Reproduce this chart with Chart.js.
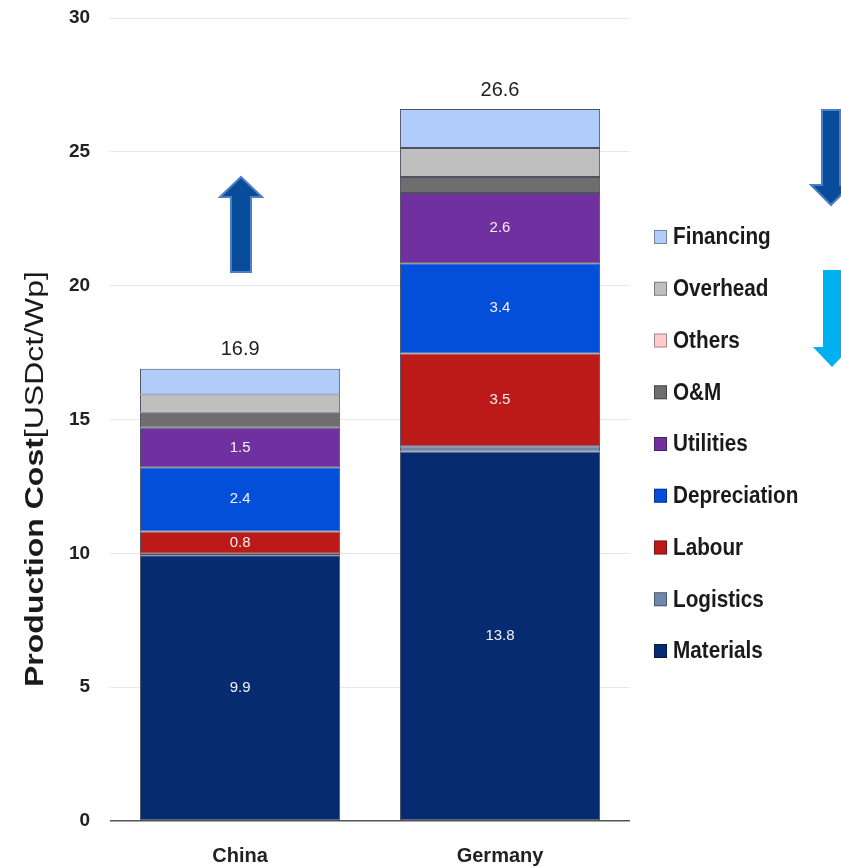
<!DOCTYPE html>
<html lang="en">
<head>
    <meta charset="UTF-8">
    <title>Production Cost China vs Germany</title>
    <script src="https://cdn.jsdelivr.net/npm/chart.js@4.4.1/dist/chart.umd.min.js"></script>
    <style>
        html, body { margin: 0; padding: 0; background: #fff; }
        .chart-container { width: 841px; height: 867px; }
    </style>
</head>
<body>
    <div class="chart-container">
        <canvas id="costChart" width="841" height="867"></canvas>
    </div>

    <script>
        // values (USDct/Wp), bottom of the stack first
        const countries = ['China', 'Germany'];
        const materials = [9.93, 13.8];
        const logistics = [0.05, 0.2];
        const labour = [0.84, 3.47];
        const depreciation = [2.4, 3.37];
        const utilities = [1.47, 2.62];
        const oAndM = [0.56, 0.6];
        const others = [0, 0];
        const overhead = [0.68, 1.08];
        const financing = [0.97, 1.46];
        const yTicks = [0, 5, 10, 15, 20, 25, 30];

        const FONT = "'Liberation Sans', Arial, sans-serif";

        function series(label, data, color, showValue) {
            return {
                label: label,
                data: data,
                backgroundColor: color,
                borderColor: 'rgba(20, 22, 45, 0.75)',
                borderWidth: 1,
                borderSkipped: false,
                showValue: showValue
            };
        }

        const datasets = [
            series('Materials', materials, '#072b70', true),
            series('Logistics', logistics, '#6f86ad', false),
            series('Labour', labour, '#bb1a18', true),
            series('Depreciation', depreciation, '#044fd9', true),
            series('Utilities', utilities, '#7030a0', true),
            series('O&M', oAndM, '#6e6e6e', false),
            series('Others', others, '#ffcccc', false),
            series('Overhead', overhead, '#bfbfbf', false),
            series('Financing', financing, '#b0ccfb', false)
        ];

        // white numbers inside the labelled segments + totals above bars
        const valueLabels = {
            id: 'valueLabels',
            afterDatasetsDraw(chart) {
                const ctx = chart.ctx;
                ctx.save();
                ctx.textAlign = 'center';
                ctx.textBaseline = 'middle';
                ctx.font = '15px ' + FONT;
                ctx.fillStyle = '#f2f2f2';
                chart.data.datasets.forEach((ds, i) => {
                    if (!ds.showValue) return;
                    chart.getDatasetMeta(i).data.forEach((bar, j) => {
                        ctx.fillText(ds.data[j].toFixed(1), bar.x, (bar.y + bar.base) / 2);
                    });
                });
                const yScale = chart.scales.y;
                const firstMeta = chart.getDatasetMeta(0);
                ctx.font = '20px ' + FONT;
                ctx.fillStyle = '#222';
                countries.forEach((c, j) => {
                    const total = chart.data.datasets.reduce((s, ds) => s + ds.data[j], 0);
                    ctx.fillText(total.toFixed(1), firstMeta.data[j].x, yScale.getPixelForValue(total) - 19);
                });
                ctx.restore();
            }
        };

        // mixed bold / normal axis title, stretched like the original
        const axisTitle = {
            id: 'axisTitle',
            afterDraw(chart) {
                const ctx = chart.ctx;
                const boldPart = 'Production Cost';
                const normalPart = '[USDct/Wp]';
                ctx.save();
                ctx.translate(36, 479);
                ctx.rotate(-Math.PI / 2);
                ctx.scale(1.28, 1);
                ctx.textBaseline = 'middle';
                ctx.textAlign = 'left';
                ctx.fillStyle = '#1a1a1a';
                ctx.font = 'bold 25px ' + FONT;
                const w1 = ctx.measureText(boldPart).width;
                ctx.font = '25px ' + FONT;
                const w2 = ctx.measureText(normalPart).width;
                let x = -(w1 + w2) / 2;
                ctx.font = 'bold 25px ' + FONT;
                ctx.fillText(boldPart, x, 0);
                ctx.font = '25px ' + FONT;
                ctx.fillText(normalPart, x + w1, 0);
                ctx.restore();
            }
        };

        // legend on the right, top item = last dataset
        const sideLegend = {
            id: 'sideLegend',
            afterDraw(chart) {
                const ctx = chart.ctx;
                const items = chart.data.datasets.slice().reverse();
                ctx.save();
                items.forEach((ds, k) => {
                    const y = 237 + k * 51.75;
                    ctx.fillStyle = ds.backgroundColor;
                    ctx.fillRect(654, y - 7, 13, 14);
                    ctx.strokeStyle = 'rgba(0, 0, 0, 0.35)';
                    ctx.lineWidth = 1;
                    ctx.strokeRect(654.5, y - 6.5, 12, 13);
                    ctx.save();
                    ctx.translate(673, y);
                    ctx.scale(0.9, 1);
                    ctx.font = 'bold 23px ' + FONT;
                    ctx.fillStyle = '#1a1a1a';
                    ctx.textBaseline = 'middle';
                    ctx.fillText(ds.label, 0, 1);
                    ctx.restore();
                });
                ctx.restore();
            }
        };

        // decorative arrows
        function arrow(ctx, cx, shaftHalf, headHalf, yTail, yHeadBase, yTip, fill, stroke) {
            ctx.beginPath();
            ctx.moveTo(cx, yTip);
            ctx.lineTo(cx + headHalf, yHeadBase);
            ctx.lineTo(cx + shaftHalf, yHeadBase);
            ctx.lineTo(cx + shaftHalf, yTail);
            ctx.lineTo(cx - shaftHalf, yTail);
            ctx.lineTo(cx - shaftHalf, yHeadBase);
            ctx.lineTo(cx - headHalf, yHeadBase);
            ctx.closePath();
            ctx.fillStyle = fill;
            ctx.fill();
            if (stroke) {
                ctx.strokeStyle = stroke;
                ctx.lineWidth = 2;
                ctx.stroke();
            }
        }

        const arrows = {
            id: 'arrows',
            afterDraw(chart) {
                const ctx = chart.ctx;
                ctx.save();
                arrow(ctx, 241, 10, 21, 272, 197, 177, '#0a4c9c', '#4d7fc4');
                arrow(ctx, 831, 9, 20, 110, 185, 205, '#0a4c9c', '#4d7fc4');
                arrow(ctx, 832, 9, 19, 270, 347, 367, '#00b0f0', null);
                ctx.restore();
            }
        };

        new Chart(document.getElementById('costChart'), {
            type: 'bar',
            data: { labels: countries, datasets: datasets },
            options: {
                responsive: false,
                animation: false,
                layout: { padding: { left: 49, right: 211, top: 18, bottom: -24 } },
                plugins: {
                    legend: { display: false },
                    tooltip: { enabled: false }
                },
                datasets: { bar: { categoryPercentage: 1, barPercentage: 0.77 } },
                scales: {
                    x: {
                        stacked: true,
                        grid: { display: false, drawTicks: false },
                        border: { display: false },
                        ticks: {
                            padding: 23,
                            color: '#222',
                            font: { family: FONT, size: 20, weight: 'bold' }
                        }
                    },
                    y: {
                        stacked: true,
                        min: yTicks[0],
                        max: yTicks[yTicks.length - 1],
                        afterBuildTicks: (axis) => { axis.ticks = yTicks.map(v => ({ value: v })); },
                        afterFit: (axis) => { axis.paddingTop = 0; axis.paddingBottom = 0; },
                        border: { display: false },
                        grid: {
                            drawTicks: false,
                            color: (c) => c.tick && c.tick.value === 0 ? '#555' : '#e8e8e8',
                            lineWidth: (c) => c.tick && c.tick.value === 0 ? 1.5 : 1
                        },
                        ticks: {
                            padding: 20,
                            color: '#222',
                            font: { family: FONT, size: 19, weight: 'bold' }
                        }
                    }
                }
            },
            plugins: [valueLabels, axisTitle, sideLegend, arrows]
        });
    </script>
</body>
</html>
